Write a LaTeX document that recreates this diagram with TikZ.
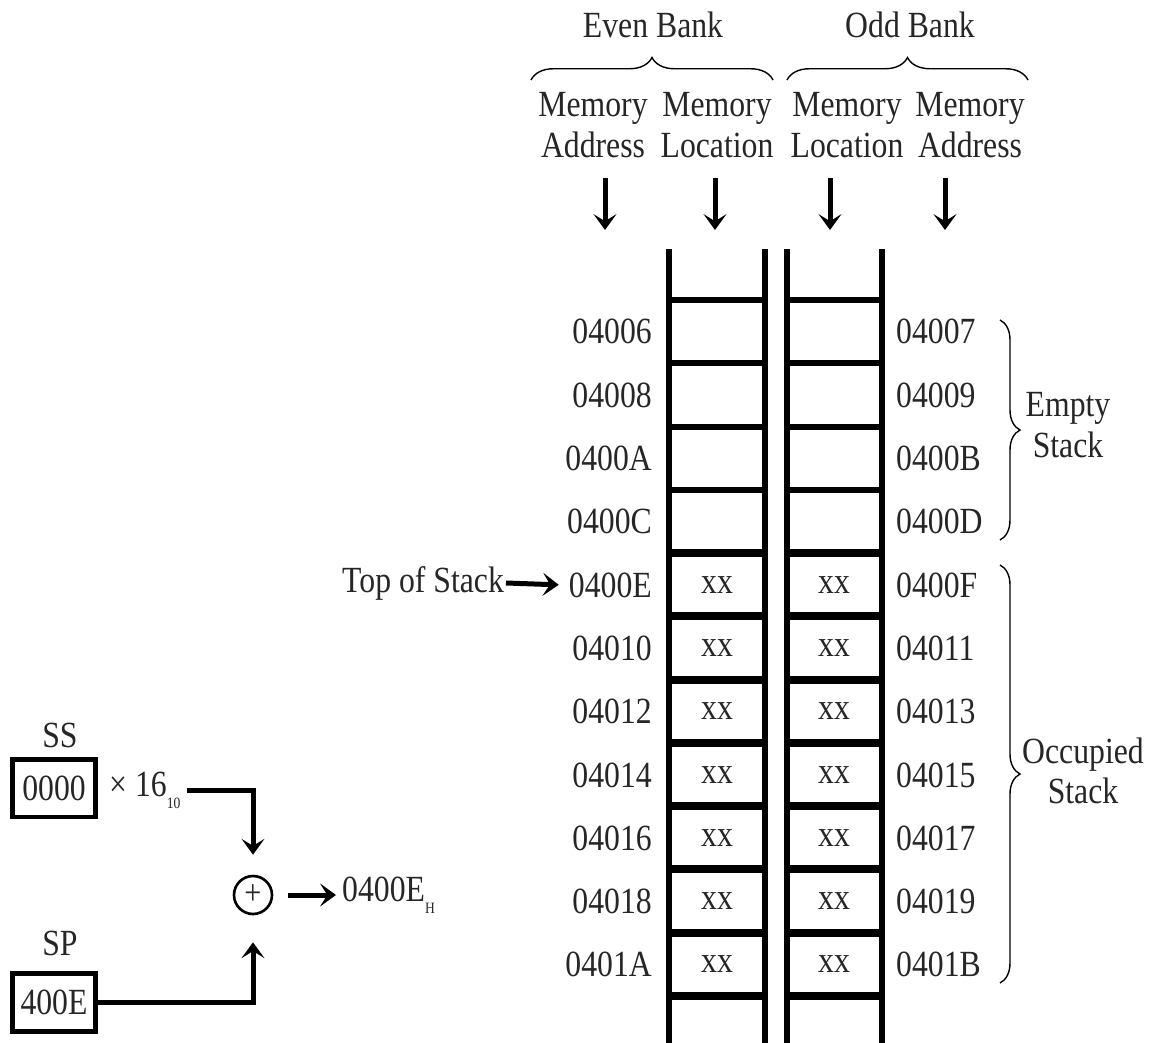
\documentclass[tikz,border=0pt]{standalone}
\usepackage{fontspec}
\setmainfont{Liberation Serif}[FakeStretch=0.86]
\usepackage{tikz}
\usetikzlibrary{
  arrows.meta,
  decorations.pathreplacing
}

\begin{document}
\begin{tikzpicture}[%スタイル設定
        x=0.02cm,y=-0.02cm,
        every node/.style={
            font=\fontsize{21}{23}\selectfont,
            text=black!85
          },
        rail/.style={
            line width=0.11cm
          },
        rung/.style={
            line width=0.12cm
          },
        full_rung/.style={
            line width=0.17cm
          },
        regbox/.style={
            draw,
            line width=0.1cm,
            minimum width=1.66cm,
            minimum height=1.16cm,
            inner sep=0pt
          },
        bigarrow/.style={
            line width=0.1cm,
            -{Stealth[length=9pt,width=13pt,inset=4pt]}
          },
        brace_up/.style={
            decorate,
            decoration={brace,amplitude=0.45cm},
            line width=0.8pt
          },
        brace_side/.style={
            decorate,
            decoration={brace,amplitude=0.4cm},
            line width=0.8pt
          },
        sub/.style={
            font=\fontsize{9}{9}\selectfont
          }
      ]
      \useasboundingbox (0,0) rectangle (1152,1043);

      % 見出し
      \node (even_bank) at (653,25) {Even Bank};
      \node (odd_bank) at (910,25) {Odd Bank};
      \draw[brace_up] (531,80) -- (773,80);
      \draw[brace_up] (787,80) -- (1028,80);
      \node[align=center] (even_addr) at (593,125) {Memory\\Address};
      \node[align=center] (even_loc) at (717,125) {Memory\\Location};
      \node[align=center] (odd_loc) at (847,125) {Memory\\Location};
      \node[align=center] (odd_addr) at (970,125) {Memory\\Address};

      % 見出しの矢印
      \coordinate (col1_top) at (605,178);
      \coordinate (col1_tip) at (605,230);
      \coordinate (col2_top) at (715,178);
      \coordinate (col2_tip) at (715,230);
      \coordinate (col3_top) at (830,178);
      \coordinate (col3_tip) at (830,230);
      \coordinate (col4_top) at (945,178);
      \coordinate (col4_tip) at (945,230);
      \draw[bigarrow] (col1_top) -- (col1_tip);
      \draw[bigarrow] (col2_top) -- (col2_tip);
      \draw[bigarrow] (col3_top) -- (col3_tip);
      \draw[bigarrow] (col4_top) -- (col4_tip);

      % メモリの枠
      \draw[rail] (669,249) -- (669,1043);
      \draw[rail] (765,249) -- (765,1043);
      \draw[rail] (787,249) -- (787,1043);
      \draw[rail] (882,249) -- (882,1043);
      \foreach \y in {300,363,427,490}{
          \draw[rung] (669,\y) -- (765,\y);
          \draw[rung] (787,\y) -- (882,\y);
        }
      \foreach \y in {553,616,680,743,806,869,933,996}{
          \draw[full_rung] (669,\y) -- (765,\y);
          \draw[full_rung] (787,\y) -- (882,\y);
        }
      \foreach \y in {585,648,711,775,838,901,964}{
          \node (xx_even) at (717,\y) {xx};
          \node (xx_odd) at (834,\y) {xx};
        }

      % 偶数番地
      \node[anchor=east] (addr_04006) at (658,331) {04006};
      \node[anchor=east] (addr_04008) at (658,395) {04008};
      \node[anchor=east] (addr_0400A) at (658,458) {0400A};
      \node[anchor=east] (addr_0400C) at (658,521) {0400C};
      \node[anchor=east] (addr_0400E) at (658,585) {0400E};
      \node[anchor=east] (addr_04010) at (658,648) {04010};
      \node[anchor=east] (addr_04012) at (658,711) {04012};
      \node[anchor=east] (addr_04014) at (658,775) {04014};
      \node[anchor=east] (addr_04016) at (658,838) {04016};
      \node[anchor=east] (addr_04018) at (658,901) {04018};
      \node[anchor=east] (addr_0401A) at (658,964) {0401A};

      % 奇数番地
      \node[anchor=west] (addr_04007) at (890,331) {04007};
      \node[anchor=west] (addr_04009) at (890,395) {04009};
      \node[anchor=west] (addr_0400B) at (890,458) {0400B};
      \node[anchor=west] (addr_0400D) at (890,521) {0400D};
      \node[anchor=west] (addr_0400F) at (890,585) {0400F};
      \node[anchor=west] (addr_04011) at (890,648) {04011};
      \node[anchor=west] (addr_04013) at (890,711) {04013};
      \node[anchor=west] (addr_04015) at (890,775) {04015};
      \node[anchor=west] (addr_04017) at (890,838) {04017};
      \node[anchor=west] (addr_04019) at (890,901) {04019};
      \node[anchor=west] (addr_0401B) at (890,964) {0401B};

      % 右側の括弧
      \draw[brace_side] (1000,320) -- (1000,540);
      \node[align=center] (empty_stack) at (1068,425) {Empty\\Stack};
      \draw[brace_side] (1000,565) -- (1000,983);
      \node[align=center] (occupied_stack) at (1083,771) {Occupied\\Stack};

      % スタックの先頭
      \node[anchor=east,inner sep=1pt] (top_label) at (506,583) {Top of Stack};
      \draw[bigarrow,shorten >=0.08cm] (top_label.east) -- (addr_0400E.west);

      % 物理アドレスの計算
      \node (ss_label) at (60,735) {SS};
      \node[regbox] (ss_box) at (54,788) {0000};
      \node[anchor=west] (mul) at (103,790) {× 16\raisebox{-0.4ex}{\tikz[baseline]\node[sub,inner sep=0pt]{10};}};
      \node[
        circle,
        draw,
        line width=1.5pt,
        minimum size=0.76cm,
        inner sep=0pt,
        font=\fontsize{20}{20}\selectfont
      ] (plus) at (253,895) {+};
      \node (sp_label) at (60,943) {SP};
      \node[regbox] (sp_box) at (54,1002) {400E};
      \node[anchor=west] (result) at (336,895) {0400E\raisebox{-0.4ex}{\tikz[baseline]\node[sub,inner sep=0pt]{H};}};

      \draw[bigarrow,shorten >=0.4cm] (mul.east) -| (plus.north);
      \draw[bigarrow,shorten >=0.54cm] (sp_box.east) -| (plus.south);
      \draw[bigarrow,shorten <=0.3cm] (plus.east) -- (result.west);

    \end{tikzpicture}
\end{document}
